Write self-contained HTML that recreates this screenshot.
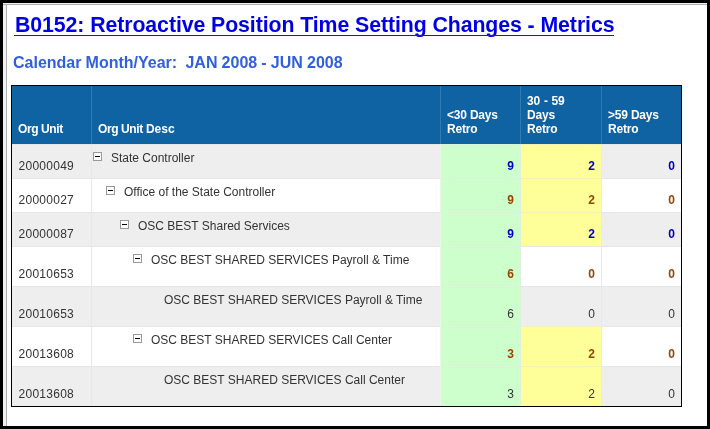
<!DOCTYPE html>
<html>
<head>
<meta charset="utf-8">
<title>B0152: Retroactive Position Time Setting Changes - Metrics</title>
<style>
html,body{margin:0;padding:0;}
body{width:710px;height:429px;background:#fff;position:relative;overflow:hidden;font-family:"Liberation Sans",Arial,sans-serif;}
#frame{position:absolute;left:0;top:0;width:704px;height:423px;border:3px solid #000;}
#gl{position:absolute;left:3px;top:3px;width:3px;height:423px;background:#f0f0f0;border-right:1px solid #b0b0b0;}
#gt{position:absolute;left:3px;top:3px;width:704px;height:1px;background:#f0f0f0;border-bottom:1px solid #b0b0b0;}
#title{position:absolute;left:15px;top:13px;font-size:21.3px;letter-spacing:-0.085px;font-weight:bold;color:#0000e6;white-space:nowrap;line-height:24px;}
#ul{position:absolute;left:14px;top:35px;width:600px;height:1px;background:#1a1ab8;}
#sub{position:absolute;left:13px;top:54px;font-size:16px;font-weight:bold;color:#3060dc;word-spacing:-0.3px;white-space:pre;line-height:18px;}
table{position:absolute;left:11px;top:85px;border-collapse:separate;border-spacing:0;border:1px solid #000;table-layout:fixed;width:671px;font-size:12px;color:#333;}
th,td{box-sizing:border-box;}
th{background:#0f63a2;color:#fff;font-weight:bold;text-align:left;vertical-align:bottom;padding:0 0 8px 6px;line-height:14px;letter-spacing:-0.2px;height:58px;border-right:1px solid #2c7ab6;}
th:last-child,td:last-child{border-right:0;}
td{height:34px;padding:0;border-right:1px solid #e8e8e8;border-top:1px solid #e6e6e6;vertical-align:bottom;line-height:14px;}
tr.g td{background:#eee;}
tr.w td{background:#fff;}
td.c1{padding:0 0 5px 6.6px;letter-spacing:0.25px;}
td.c2{border-right-color:#eaf6ea;vertical-align:top;padding:6px 0 0 0;white-space:nowrap;}
td.n{text-align:right;padding:0 6px 5px 0;}
tr td.gr{background:#ccffcc;border-color:#dcf0dc;}
tr td.ye{background:#ffff99;border-color:#f2f2b4;}
tr.t td{height:40px;}
.ou{letter-spacing:-0.4px;}
.de{letter-spacing:0;}
.b{font-weight:bold;color:#0000c0;}
.o{font-weight:bold;color:#994400;}
.ic{display:inline-block;width:7px;height:7px;border:1px solid #999;background:#fff;position:relative;vertical-align:top;margin-top:1px;margin-right:9px;}
.ic:after{content:"";position:absolute;left:1px;top:3px;width:5px;height:1px;background:#000;}
</style>
</head>
<body>
<div id="frame"></div><div id="gl"></div><div id="gt"></div>
<div id="title">B0152: Retroactive Position Time Setting Changes - Metrics</div>
<div id="ul"></div>
<div id="sub">Calendar Month/Year:  JAN 2008 - JUN 2008</div>
<table>
<colgroup><col style="width:80px"><col style="width:349px"><col style="width:80px"><col style="width:81px"><col style="width:79px"></colgroup>
<tr><th><span class="ou">Org Unit</span></th><th><span class="ou">Org Unit</span> <span class="de">Desc</span></th><th>&lt;30 Days<br>Retro</th><th><span style="word-spacing:0.8px">30 - 59</span><br>Days<br>Retro</th><th>&gt;59 Days<br>Retro</th></tr>
<tr class="g"><td class="c1">20000049</td><td class="c2" style="padding-left:1px"><span class="ic"></span>State Controller</td><td class="n gr b">9</td><td class="n ye b">2</td><td class="n b">0</td></tr>
<tr class="w"><td class="c1">20000027</td><td class="c2" style="padding-left:14px"><span class="ic"></span>Office of the State Controller</td><td class="n gr o">9</td><td class="n ye o">2</td><td class="n o">0</td></tr>
<tr class="g"><td class="c1">20000087</td><td class="c2" style="padding-left:28px"><span class="ic"></span>OSC BEST Shared Services</td><td class="n gr b">9</td><td class="n ye b">2</td><td class="n b">0</td></tr>
<tr class="w t"><td class="c1">20010653</td><td class="c2" style="padding-left:41px"><span class="ic"></span>OSC BEST SHARED SERVICES Payroll &amp; Time</td><td class="n gr o">6</td><td class="n o">0</td><td class="n o">0</td></tr>
<tr class="g t"><td class="c1">20010653</td><td class="c2" style="padding-left:72px">OSC BEST SHARED SERVICES Payroll &amp; Time</td><td class="n gr">6</td><td class="n">0</td><td class="n">0</td></tr>
<tr class="w t"><td class="c1">20013608</td><td class="c2" style="padding-left:41px"><span class="ic"></span>OSC BEST SHARED SERVICES Call Center</td><td class="n gr o">3</td><td class="n ye o">2</td><td class="n o">0</td></tr>
<tr class="g t"><td class="c1">20013608</td><td class="c2" style="padding-left:72px">OSC BEST SHARED SERVICES Call Center</td><td class="n gr">3</td><td class="n ye">2</td><td class="n">0</td></tr>
</table>
</body>
</html>
